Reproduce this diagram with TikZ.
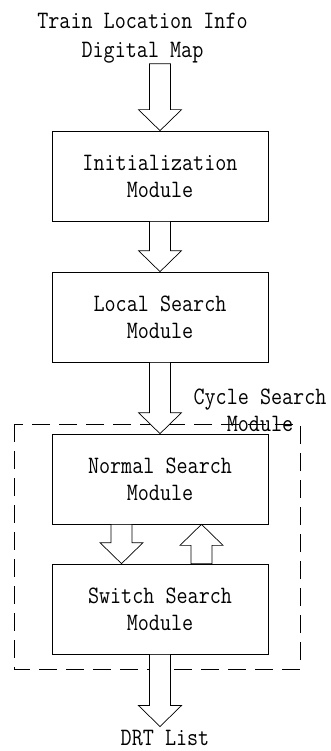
\documentclass[tikz,border=0pt]{standalone}
\usepackage{fontspec}
\setmonofont{Latin Modern Mono}[FakeStretch=0.86]
\usetikzlibrary{calc}
\newcommand{\dnarr}[2]{\draw[barrow] let \p1=(#1), \p2=(#2) in
  (\x1-10.5pt,\y1) -- (\x1-10.5pt,\y2+21pt) -- (\x1-21.5pt,\y2+21pt) -- (\x1,\y2)
  -- (\x1+21.5pt,\y2+21pt) -- (\x1+10.5pt,\y2+21pt) -- (\x1+10.5pt,\y1) -- cycle;}
\newcommand{\uparr}[2]{\draw[barrow] let \p1=(#1), \p2=(#2) in
  (\x1-10.5pt,\y1) -- (\x1-10.5pt,\y2-21pt) -- (\x1-21.5pt,\y2-21pt) -- (\x1,\y2)
  -- (\x1+21.5pt,\y2-21pt) -- (\x1+10.5pt,\y2-21pt) -- (\x1+10.5pt,\y1) -- cycle;}
\begin{document}
\begin{tikzpicture}[x=1pt,y=-1pt,
  txt/.style={font=\fontsize{25}{27}\selectfont\ttfamily},
  box/.style={txt, draw, line width=0.7pt, minimum width=216pt, minimum height=90pt, inner sep=0pt, align=center},
  lbl/.style={txt, inner sep=0pt, align=center},
  barrow/.style={draw, fill=white, line width=0.7pt, line join=miter},
  grp/.style={draw, line width=0.7pt, dash pattern=on 18pt off 9pt}]
\useasboundingbox (0,0) rectangle (330,751);
\node[lbl, font=\fontsize{25}{29}\selectfont\ttfamily] (src) at (142.5,38.5) {Train Location Info\\Digital Map};
\node[box] (init) at (160,176) {Initialization\\Module};
\node[box] (local) at (160,317) {Local Search\\Module};
\node[box] (normal) at (160,479) {Normal Search\\Module};
\node[box] (switch) at (160,609) {Switch Search\\Module};
\node[lbl] (cyc) at (260,410) {Cycle Search\\Module};
\node[lbl] (drt) at (165,738) {DRT List};
\draw[grp] (14,424) rectangle (300,669);
\dnarr{init.north |- src.south}{init.north}
\dnarr{init.south}{local.north}
\dnarr{local.south}{normal.north}
\dnarr{$(normal.south)+(-38.5,0)$}{$(switch.north)+(-38.5,0)$}
\uparr{$(switch.north)+(41.5,0)$}{$(normal.south)+(41.5,0)$}
\dnarr{switch.south}{$(switch.south |- drt.north)+(0,-3.5)$}
\end{tikzpicture}
\end{document}
